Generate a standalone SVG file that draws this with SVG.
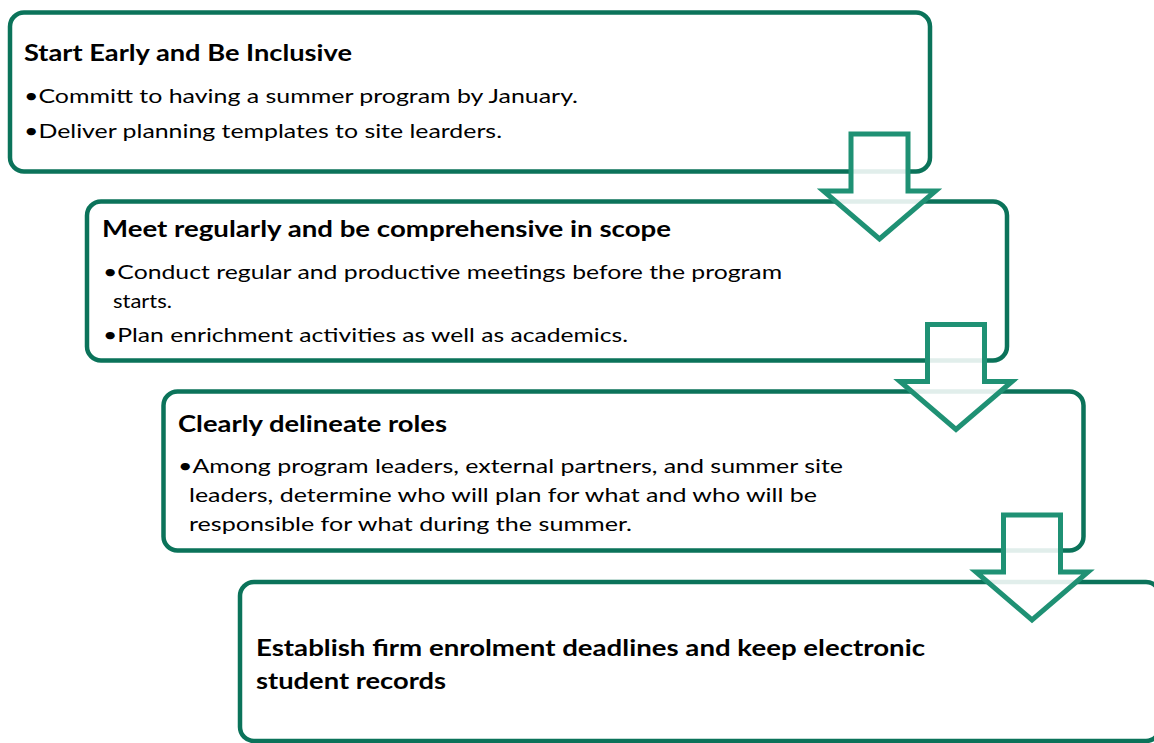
<svg xmlns="http://www.w3.org/2000/svg" width="1154" height="743" viewBox="0 0 1154 743">
<style>
.box{fill:#ffffff;stroke:#0b735a;stroke-width:4.5}
.arrow{fill:#ffffff;fill-opacity:0.88;stroke:#1f9174;stroke-width:5;stroke-linejoin:miter}
.t{font-family:Lato,"Open Sans",sans-serif;font-weight:700;font-size:22.5px;fill:#000}
.b{font-family:Lato,"Open Sans",sans-serif;font-weight:400;font-size:20px;fill:#000}
</style>
<rect width="1154" height="743" fill="#ffffff"/>
<g id="node1">
<rect class="box" x="10" y="12.5" width="920" height="159" rx="14"/>
<text class="t" x="24" y="61" textLength="328" lengthAdjust="spacingAndGlyphs">Start Early and Be Inclusive</text>
<text class="b" x="24" y="103" textLength="554" lengthAdjust="spacingAndGlyphs">•Committ to having a summer program by January.</text>
<text class="b" x="24" y="138" textLength="478" lengthAdjust="spacingAndGlyphs">•Deliver planning templates to site learders.</text>
</g>
<g id="node2">
<rect class="box" x="87" y="201.5" width="920" height="159" rx="14"/>
<text class="t" x="102" y="237" textLength="569" lengthAdjust="spacingAndGlyphs">Meet regularly and be comprehensive in scope</text>
<text class="b" x="103" y="278.5" textLength="679" lengthAdjust="spacingAndGlyphs">•Conduct regular and productive meetings before the program</text>
<text class="b" x="113" y="308" textLength="59" lengthAdjust="spacingAndGlyphs">starts.</text>
<text class="b" x="103" y="342" textLength="525" lengthAdjust="spacingAndGlyphs">•Plan enrichment activities as well as academics.</text>
</g>
<g id="node3">
<rect class="box" x="163.5" y="391.5" width="920" height="159" rx="14"/>
<text class="t" x="178" y="432" textLength="269" lengthAdjust="spacingAndGlyphs">Clearly delineate roles</text>
<text class="b" x="178" y="473" textLength="665" lengthAdjust="spacingAndGlyphs">•Among program leaders, external partners, and summer site</text>
<text class="b" x="189" y="502" textLength="628" lengthAdjust="spacingAndGlyphs">leaders, determine who will plan for what and who will be</text>
<text class="b" x="189" y="531" textLength="443" lengthAdjust="spacingAndGlyphs">responsible for what during the summer.</text>
</g>
<g id="node4">
<rect class="box" x="240" y="582" width="920" height="159" rx="14"/>
<text class="t" x="256" y="656" textLength="669" lengthAdjust="spacingAndGlyphs">Establish firm enrolment deadlines and keep electronic</text>
<text class="t" x="256" y="688.5" textLength="190" lengthAdjust="spacingAndGlyphs">student records</text>
</g>
<g id="connectors">
<path class="arrow" d="M851,134 H908 V191 H935.5 L879.5,239 L823.5,191 H851 Z"/>
<path class="arrow" d="M927.5,324.5 H984.5 V381.5 H1012 L956,429.5 L900,381.5 H927.5 Z"/>
<path class="arrow" d="M1003.5,515 H1060.5 V572 H1088 L1032,620 L976,572 H1003.5 Z"/>
</g>
</svg>
